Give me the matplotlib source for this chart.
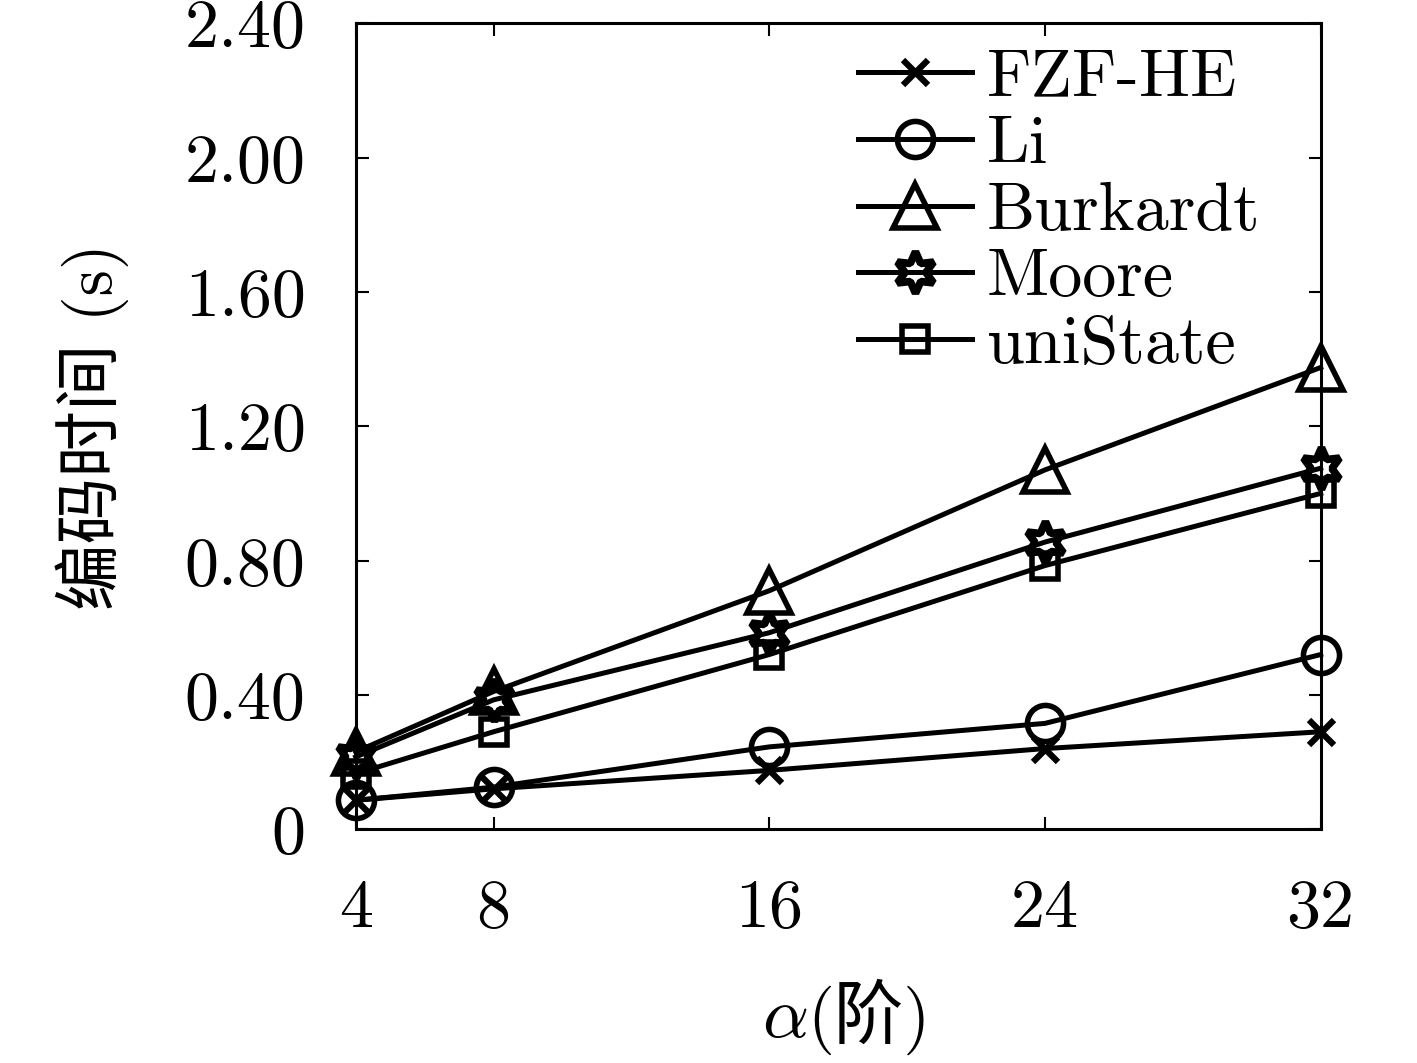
import matplotlib
matplotlib.use("Agg")
import matplotlib.pyplot as plt

plt.rcParams['font.family'] = ['cmr10', 'Noto Sans CJK SC', 'DejaVu Sans']
plt.rcParams['mathtext.fontset'] = 'cm'
plt.rcParams['axes.formatter.use_mathtext'] = True

# data
orders = [4, 8, 16, 24, 32]
fzf_he = [0.086, 0.12, 0.175, 0.24, 0.29]
li = [0.086, 0.125, 0.245, 0.315, 0.52]
burkardt = [0.23, 0.41, 0.71, 1.07, 1.375]
moore = [0.215, 0.385, 0.585, 0.855, 1.075]
unistate = [0.165, 0.29, 0.52, 0.785, 1.0]

yticks = [0, 0.4, 0.8, 1.2, 1.6, 2.0, 2.4]
ytick_labels = ['0', '0.40', '0.80', '1.20', '1.60', '2.00', '2.40']

fig = plt.figure(figsize=(14.17, 10.63), dpi=100)
ax = fig.add_axes([0.251, 0.220, 0.681, 0.758])

lw = 3.6
kw = dict(color='k', lw=lw, clip_on=False, zorder=3)
ax.plot(orders, fzf_he, '-', marker='x', ms=18, mew=4.5, label='FZF-HE', **kw)
ax.plot(orders, li, '-', marker='o', ms=26, mew=4, mfc='none', label='Li', **kw)
ax.plot(orders, burkardt, '-', marker='^', ms=32, mew=4, mfc='none', label='Burkardt', **kw)
ax.plot(orders, moore, '-', marker=(6, 1, 0), ms=30, mew=5.5, mfc='none', label='Moore', **kw)
ax.plot(orders, unistate, '-', marker='s', ms=19, mew=4, mfc='none', label='uniState', **kw)

ax.set_xlim(4, 32)
ax.set_ylim(0, 2.4)
ax.set_xticks(orders, [str(o) for o in orders])
ax.set_yticks(yticks, ytick_labels)
ax.tick_params(direction='in', top=True, right=True, length=9, width=1.5,
               labelsize=49)
ax.tick_params(axis='y', pad=36)
ax.tick_params(axis='x', pad=36)
for s in ax.spines.values():
    s.set_linewidth(2.2)

ax.set_ylabel('编码时间 (s)', fontsize=48, labelpad=40)

# x label: math alpha followed by plain text so the CJK glyph falls back properly
fig.text(0.5695, 0.024, r'$\alpha$', fontsize=52, ha='right', va='baseline')
fig.text(0.5695, 0.024, '(阶)', fontsize=50, ha='left', va='baseline')

ax.legend(loc='upper right', bbox_to_anchor=(0.98, 1.02), frameon=False,
          fontsize=49, handlelength=1.68, handletextpad=0.22, labelspacing=0.08,
          borderaxespad=0.2)

fig.savefig('out.png', dpi=100)
